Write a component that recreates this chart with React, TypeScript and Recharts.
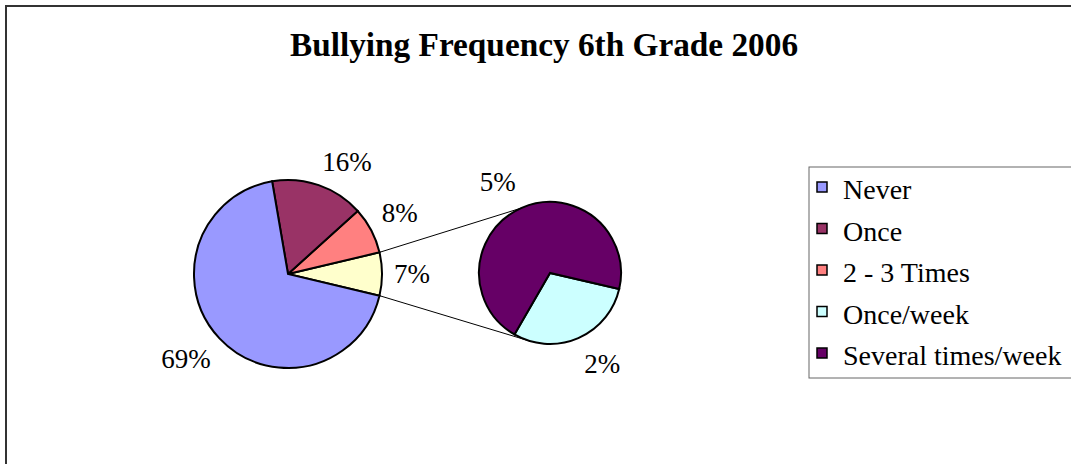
import { PieChart, Pie, Cell } from "recharts";

const W = 1071;
const H = 464;
const FONT = "Liberation Serif, DejaVu Serif, serif";

const TITLE = "Bullying Frequency 6th Grade 2006";
const categories = ["Never", "Once", "2 - 3 Times", "Once/week", "Several times/week"];
const values = [68.6, 16.0, 8.0, 2.2, 5.2];
const colors = ["#9999FF", "#993366", "#FF8080", "#CCFFFF", "#660066"];
const OTHER_COLOR = "#FFFFCC";
// how many of the last categories are split out into the small pie
const SPLIT_COUNT = 2;

const RAD = Math.PI / 180;
const pt = (cx: number, cy: number, r: number, deg: number) => ({
  x: cx + r * Math.cos(deg * RAD),
  y: cy - r * Math.sin(deg * RAD),
});
const clamp = (v: number) => Math.max(-1, Math.min(1, v));

const LABEL_FS = 27;

// label box sits with its nearest corner on a point just outside the slice
const makeLabel = (gap: number) => (props: any) => {
  const { cx, cy, midAngle, outerRadius, value } = props;
  const text = `${Math.round(value)}%`;
  const digits = text.length - 1;
  const hw = ((digits * 0.5 + 0.833) * LABEL_FS) / 2;
  const hh = 12;
  const c = Math.cos(midAngle * RAD);
  const s = Math.sin(midAngle * RAD);
  const p = pt(cx, cy, outerRadius + gap, midAngle);
  const x = p.x + hw * clamp(c * 3);
  const y = p.y - hh * clamp(s * 3);
  return (
    <text
      x={x}
      y={y}
      textAnchor="middle"
      dominantBaseline="central"
      style={{ fontSize: LABEL_FS, fontFamily: FONT }}
      fill="#000"
    >
      {text}
    </text>
  );
};

export default function App() {
  const n = categories.length;
  const mainCount = n - SPLIT_COUNT;
  const otherValue = values.slice(mainCount).reduce((a, b) => a + b, 0);

  // main pie: "Other" slice first, centred on 3 o'clock, then counter-clockwise
  const mainData = [
    { name: "Other", value: otherValue, fill: OTHER_COLOR },
    ...categories
      .slice(0, mainCount)
      .map((name, i) => ({ name, value: values[i], fill: colors[i] }))
      .reverse(),
  ];
  const secondData = categories
    .slice(mainCount)
    .map((name, i) => ({ name, value: values[mainCount + i], fill: colors[mainCount + i] }));

  const otherAngle = (otherValue / 100) * 360;
  const mainStart = -otherAngle / 2;

  const main = { cx: 288, cy: 274, r: 94 };
  const second = { cx: 550, cy: 273, r: 71 };
  const secondStart = -13;

  const a1 = pt(main.cx, main.cy, main.r, otherAngle / 2);
  const a2 = pt(main.cx, main.cy, main.r, -otherAngle / 2);
  const b1 = pt(second.cx, second.cy, second.r, 114);
  const b2 = pt(second.cx, second.cy, second.r, -106);

  const legend = { x: 809, y: 167, h: 211, step: 41.5 };

  return (
    <div
      style={{
        position: "absolute",
        left: 0,
        top: 0,
        width: W,
        height: H,
        background: "#fff",
        fontFamily: FONT,
      }}
    >
      <PieChart width={W} height={H} margin={{ top: 0, right: 0, bottom: 0, left: 0 }}>
        <rect x={6} y={6} width={W + 40} height={H + 40} fill="none" stroke="#333" strokeWidth={2} />
        <text
          x={544}
          y={56}
          textAnchor="middle"
          style={{ fontSize: 33.3, fontWeight: "bold", fontFamily: FONT }}
          fill="#000"
        >
          {TITLE}
        </text>

        <Pie
          data={mainData}
          dataKey="value"
          nameKey="name"
          cx={main.cx}
          cy={main.cy}
          outerRadius={main.r}
          startAngle={mainStart}
          endAngle={mainStart + 360}
          stroke="#000"
          strokeWidth={2}
          label={makeLabel(12)}
          labelLine={false}
          isAnimationActive={false}
        >
          {mainData.map((d) => (
            <Cell key={d.name} fill={d.fill} />
          ))}
        </Pie>

        <Pie
          data={secondData}
          dataKey="value"
          nameKey="name"
          cx={second.cx}
          cy={second.cy}
          outerRadius={second.r}
          startAngle={secondStart}
          endAngle={secondStart - 360}
          stroke="#000"
          strokeWidth={2}
          label={makeLabel(15)}
          labelLine={false}
          isAnimationActive={false}
        >
          {secondData.map((d) => (
            <Cell key={d.name} fill={d.fill} />
          ))}
        </Pie>

        {/* connector lines */}
        <line x1={a1.x} y1={a1.y} x2={b1.x} y2={b1.y} stroke="#000" strokeWidth={1} />
        <line x1={a2.x} y1={a2.y} x2={b2.x} y2={b2.y} stroke="#000" strokeWidth={1} />

        {/* legend */}
        <rect
          x={legend.x}
          y={legend.y}
          width={400}
          height={legend.h}
          fill="#fff"
          stroke="#666"
          strokeWidth={1}
        />
        {categories.map((name, i) => (
          <g key={name}>
            <rect
              x={817}
              y={182 + i * legend.step}
              width={10}
              height={10}
              fill={colors[i]}
              stroke="#000"
              strokeWidth={1.5}
            />
            <text
              x={843}
              y={199 + i * legend.step}
              style={{ fontSize: 28, fontFamily: FONT }}
              fill="#000"
            >
              {name}
            </text>
          </g>
        ))}
      </PieChart>
    </div>
  );
}
